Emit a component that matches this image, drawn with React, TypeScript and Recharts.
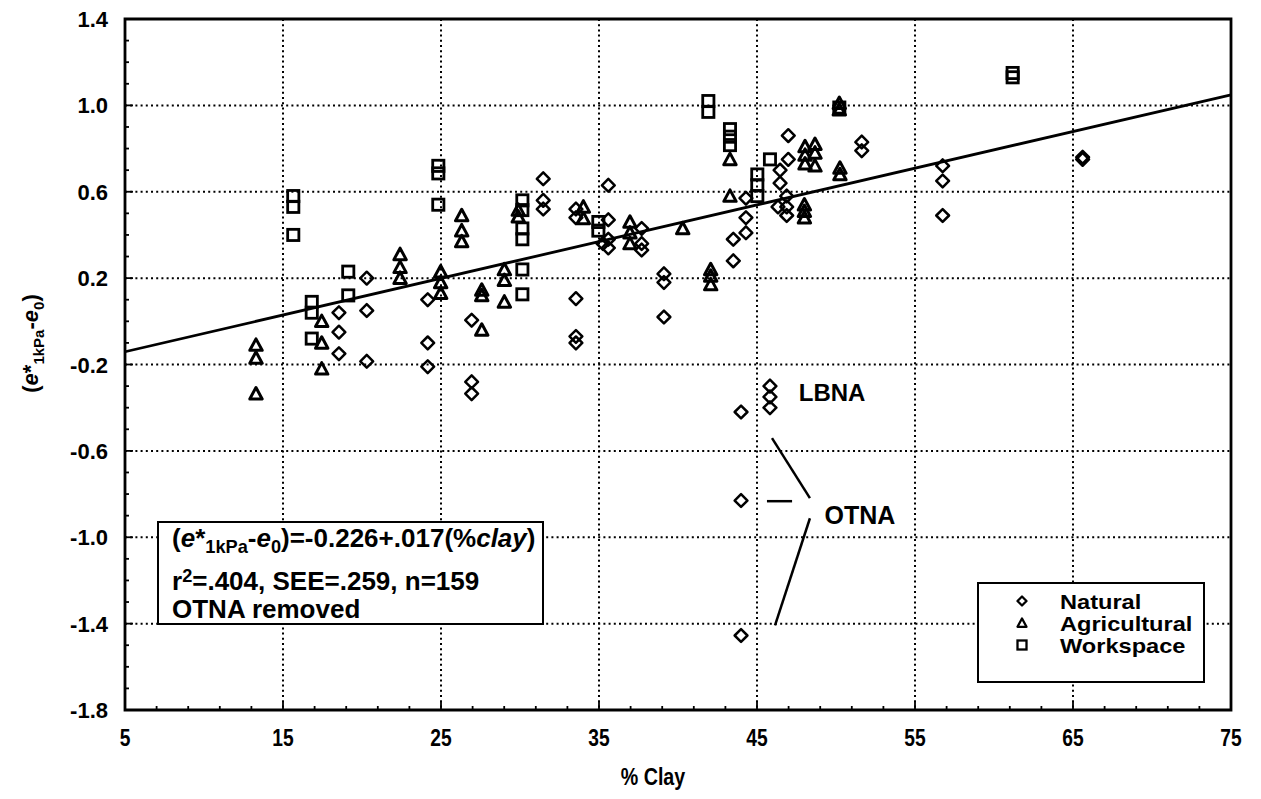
import React from 'react';
import {
  ScatterChart,
  Scatter,
  XAxis,
  YAxis,
  CartesianGrid,
  ReferenceArea,
  ReferenceLine,
  ReferenceDot,
  Legend,
} from 'recharts';

const FONT = '"Liberation Sans", Arial, Helvetica, sans-serif';

// Axis ticks (majors are labelled, the rest are minor marks)
const xMajorTicks = [5, 15, 25, 35, 45, 55, 65, 75];
const xAllTicks = [
  5, 7, 9, 11, 13, 15, 17, 19, 21, 23, 25, 27, 29, 31, 33, 35, 37, 39, 41, 43, 45, 47, 49, 51, 53,
  55, 57, 59, 61, 63, 65, 67, 69, 71, 73, 75,
];
const yMajorTicks = [-1.8, -1.4, -1.0, -0.6, -0.2, 0.2, 0.6, 1.0, 1.4];
const yAllTicks = [
  -1.8, -1.7, -1.6, -1.5, -1.4, -1.3, -1.2, -1.1, -1.0, -0.9, -0.8, -0.7, -0.6, -0.5, -0.4, -0.3,
  -0.2, -0.1, 0, 0.1, 0.2, 0.3, 0.4, 0.5, 0.6, 0.7, 0.8, 0.9, 1.0, 1.1, 1.2, 1.3, 1.4,
];

// Observations: [% clay, e*1kPa - e0]
const natural: [number, number][] = [
  [18.54, 0.04], [18.54, -0.05], [18.54, -0.15],
  [20.3, 0.2], [20.3, 0.05], [20.3, -0.185],
  [24.16, 0.1], [24.16, -0.1], [24.16, -0.21],
  [26.94, 0.005], [26.94, -0.28], [26.94, -0.335],
  [31.47, 0.66], [31.47, 0.56], [31.47, 0.52],
  [33.54, 0.52], [33.54, 0.48], [33.54, 0.105], [33.54, -0.07], [33.54, -0.1],
  [35.59, 0.63], [35.59, 0.47], [35.59, 0.38], [35.59, 0.34], [35.25, 0.36],
  [37.7, 0.43], [37.7, 0.36], [37.7, 0.33],
  [39.11, 0.22], [39.11, 0.18], [39.11, 0.02],
  [43.5, 0.38], [43.5, 0.28],
  [44.3, 0.57], [44.3, 0.48], [44.3, 0.41],
  [43.99, -0.42], [43.99, -0.83], [43.99, -1.455],
  [45.82, -0.3], [45.82, -0.35], [45.82, -0.4],
  [46.46, 0.7], [46.46, 0.64],
  [46.98, 0.86], [46.98, 0.75],
  [46.88, 0.58], [46.88, 0.53], [46.88, 0.49], [46.33, 0.53],
  [51.63, 0.83], [51.63, 0.79],
  [56.75, 0.72], [56.75, 0.65], [56.75, 0.49],
  [65.61, 0.76], [65.61, 0.75],
];

const agricultural: [number, number][] = [
  [13.29, -0.11], [13.29, -0.17], [13.29, -0.335],
  [17.45, 0.0], [17.45, -0.1], [17.45, -0.22],
  [22.41, 0.31], [22.41, 0.25], [22.41, 0.2],
  [24.98, 0.23], [24.98, 0.18], [24.98, 0.13],
  [26.31, 0.49], [26.31, 0.42], [26.31, 0.37],
  [27.58, 0.145], [27.58, 0.12], [27.58, -0.04],
  [29.01, 0.24], [29.01, 0.19], [29.01, 0.09],
  [29.89, 0.515], [29.89, 0.484],
  [34.01, 0.53], [34.01, 0.476],
  [36.96, 0.46], [36.96, 0.41], [36.96, 0.36],
  [40.3, 0.43],
  [42.07, 0.24], [42.07, 0.21], [42.07, 0.17],
  [43.29, 0.75], [43.29, 0.58],
  [48.0, 0.54], [48.0, 0.51], [48.0, 0.48],
  [48.04, 0.81], [48.04, 0.77], [48.04, 0.73],
  [48.67, 0.82], [48.67, 0.78], [48.67, 0.72],
  [50.21, 1.01], [50.21, 0.98], [50.25, 0.71], [50.25, 0.68],
];

const workspace: [number, number][] = [
  [15.65, 0.58], [15.65, 0.53], [15.65, 0.4],
  [16.82, 0.09], [16.82, 0.04], [16.82, -0.08],
  [19.13, 0.23], [19.13, 0.12],
  [24.83, 0.72], [24.83, 0.685], [24.83, 0.54],
  [30.15, 0.56], [30.15, 0.515], [30.15, 0.43], [30.15, 0.38], [30.15, 0.24], [30.15, 0.125],
  [34.96, 0.46], [34.96, 0.42],
  [41.92, 1.02], [41.92, 0.97],
  [43.29, 0.89], [43.29, 0.855], [43.29, 0.816],
  [45.02, 0.68], [45.02, 0.63], [45.02, 0.58],
  [45.82, 0.75],
  [50.21, 0.99],
  [61.18, 1.15], [61.18, 1.13],
];

// Regression (OTNA removed)
const intercept = -0.226;
const slope = 0.017;
const rSquared = 0.404;
const see = 0.259;
const nObs = 159;

// Site callouts and leader lines, in data units
const lbnaLabel = { clay: 49.75, value: -0.328 };
const otnaLabel = { clay: 51.52, value: -0.898 };
const otnaLeaders: [number, number, number, number][] = [
  [45.95, -0.541, 48.35, -0.819],
  [45.63, -0.833, 47.22, -0.833],
  [48.35, -0.912, 46.14, -1.408],
];

const toPoints = (rows: [number, number][]) => rows.map(([clay, value]) => ({ clay, value }));
const noLeadZero = (v: number, digits: number) => v.toFixed(digits).replace(/^(-?)0\./, '$1.');

// Marker shapes
const Diamond = ({ cx, cy, s = 6.4, w = 2.5 }: any) => (
  <path
    d={`M${cx},${cy - s}L${cx + s},${cy}L${cx},${cy + s}L${cx - s},${cy}Z`}
    fill="none"
    stroke="#000"
    strokeWidth={w}
    strokeLinejoin="round"
  />
);
const Triangle = ({ cx, cy, s = 6.2, w = 3 }: any) => (
  <path
    d={`M${cx},${cy - s}L${cx + s},${cy + s * 0.85}L${cx - s},${cy + s * 0.85}Z`}
    fill="none"
    stroke="#000"
    strokeWidth={w}
    strokeLinejoin="round"
  />
);
const Square = ({ cx, cy, s = 5.6, w = 2.8 }: any) => (
  <rect x={cx - s} y={cy - s} width={2 * s} height={2 * s} fill="none" stroke="#000" strokeWidth={w} />
);

const series = [
  { name: 'Natural', rows: natural, Shape: Diamond },
  { name: 'Agricultural', rows: agricultural, Shape: Triangle },
  { name: 'Workspace', rows: workspace, Shape: Square },
];

const isMajor = (list: number[], v: number) => list.some((m) => Math.abs(m - v) < 1e-6);

const XTick = (props: any) => {
  const { x, y, payload } = props;
  const v = payload.value;
  const major = isMajor(xMajorTicks, v);
  return (
    <g>
      <line x1={x} y1={y} x2={x} y2={y - (major ? 8 : 4)} stroke="#000" strokeWidth={1.8} />
      {major && (
        <text
          transform={`translate(${x},${y + 36}) scale(0.8,1)`}
          textAnchor="middle"
          fontFamily={FONT}
          fontWeight="bold"
          fontSize={24}
          fill="#000"
        >
          {v}
        </text>
      )}
    </g>
  );
};

const YTick = (props: any) => {
  const { x, y, payload } = props;
  const v = payload.value;
  const major = isMajor(yMajorTicks, v);
  return (
    <g>
      <line x1={x} y1={y} x2={x + (major ? 8 : 4)} y2={y} stroke="#000" strokeWidth={1.8} />
      {major && (
        <text
          x={x - 17}
          y={y + 8}
          textAnchor="end"
          fontFamily={FONT}
          fontWeight="bold"
          fontSize={22}
          fill="#000"
        >
          {v.toFixed(1)}
        </text>
      )}
    </g>
  );
};

const YTitle = (props: any) => {
  const vb = props.viewBox || { x: 0, y: 19, width: 125, height: 691 };
  const cx = 38;
  const cy = vb.y + vb.height / 2 - 21;
  return (
    <text
      transform={`translate(${cx},${cy}) rotate(-90)`}
      textAnchor="middle"
      fontFamily={FONT}
      fontWeight="bold"
      fontSize={22}
      fill="#000"
    >
      <tspan>(</tspan>
      <tspan fontStyle="italic">e</tspan>
      <tspan>*</tspan>
      <tspan fontSize={15} dy={6}>1kPa</tspan>
      <tspan dy={-6}>-</tspan>
      <tspan fontStyle="italic">e</tspan>
      <tspan fontSize={15} dy={6}>0</tspan>
      <tspan dy={-6}>)</tspan>
    </text>
  );
};

const XTitle = (props: any) => {
  const vb = props.viewBox || { x: 125, y: 710, width: 1106, height: 89 };
  const cx = vb.x + vb.width / 2 - 25;
  const cy = vb.y + 75;
  return (
    <text
      transform={`translate(${cx},${cy}) scale(0.82,1)`}
      textAnchor="middle"
      fontFamily={FONT}
      fontWeight="bold"
      fontSize={24}
      fill="#000"
    >
      % Clay
    </text>
  );
};

// Legend box keeps the series order (Natural, Agricultural, Workspace)
const LegendBox = (props: any) => {
  const names = (props.payload || []).map((p: any) => p.value);
  const items = series.filter((s) => names.length === 0 || names.includes(s.name));
  return (
    <svg width={228} height={101} style={{ display: 'block' }}>
      <rect x={1} y={1} width={226} height={99} fill="#fff" stroke="#000" strokeWidth={2} />
      {items.map((entry, i) => {
        const cy = 19 + i * 22;
        const Shape = entry.Shape;
        return (
          <g key={entry.name}>
            <Shape cx={45} cy={cy} s={4.5} w={2.3} />
            <text
              transform={`translate(83,${cy + 7.5}) scale(1.18,1)`}
              fontFamily={FONT}
              fontWeight="bold"
              fontSize={20}
              fill="#000"
            >
              {entry.name}
            </text>
          </g>
        );
      })}
    </svg>
  );
};

const sub: React.CSSProperties = { position: 'relative', top: '0.32em', fontSize: '0.7em' };
const sup: React.CSSProperties = { position: 'relative', top: '-0.45em', fontSize: '0.7em' };
const lineStyle = (top: number): React.CSSProperties => ({
  position: 'absolute',
  left: 13,
  top,
  whiteSpace: 'nowrap',
  lineHeight: '26px',
});

export default function App() {
  const fitLine = [
    { x: 5, y: intercept + slope * 5 },
    { x: 75, y: intercept + slope * 75 },
  ];
  return (
    <div style={{ position: 'absolute', left: 0, top: 0, width: 1261, height: 799, background: '#fff' }}>
      <ScatterChart width={1261} height={799} margin={{ top: 19, right: 30, bottom: 0, left: 0 }}>
        <CartesianGrid
          stroke="#000"
          strokeWidth={2}
          strokeDasharray="2 3.2"
          horizontalValues={yMajorTicks}
          verticalValues={xMajorTicks}
        />
        <XAxis
          type="number"
          dataKey="clay"
          domain={[5, 75]}
          ticks={xAllTicks}
          interval={0}
          height={89}
          tickSize={0}
          tickMargin={0}
          tickLine={false}
          axisLine={false}
          tick={<XTick />}
          label={{ content: XTitle }}
        />
        <YAxis
          type="number"
          dataKey="value"
          domain={[-1.8, 1.4]}
          ticks={yAllTicks}
          interval={0}
          width={125}
          tickSize={0}
          tickMargin={0}
          tickLine={false}
          axisLine={false}
          tick={<YTick />}
          label={{ content: YTitle }}
        />
        <ReferenceArea
          x1={5}
          x2={75}
          y1={-1.8}
          y2={1.4}
          fill="none"
          fillOpacity={0}
          stroke="#000"
          strokeWidth={2.8}
          ifOverflow="visible"
        />
        <ReferenceLine
          segment={[fitLine[0], fitLine[1]]}
          stroke="#000"
          strokeWidth={2.8}
          ifOverflow="visible"
        />
        {otnaLeaders.map(([x1, y1, x2, y2], i) => (
          <ReferenceLine
            key={`leader-${i}`}
            segment={[
              { x: x1, y: y1 },
              { x: x2, y: y2 },
            ]}
            stroke="#000"
            strokeWidth={2.5}
          />
        ))}
        {series.map((s) => (
          <Scatter
            key={s.name}
            name={s.name}
            data={toPoints(s.rows)}
            isAnimationActive={false}
            fill="#000"
            shape={(p: any) => <s.Shape cx={p.cx} cy={p.cy} />}
          />
        ))}
        <ReferenceDot
          x={lbnaLabel.clay}
          y={lbnaLabel.value}
          r={0}
          fill="none"
          stroke="none"
          label={{ value: 'LBNA', position: 'center', fill: '#000', fontSize: 24, fontWeight: 'bold', fontFamily: FONT }}
        />
        <ReferenceDot
          x={otnaLabel.clay}
          y={otnaLabel.value}
          r={0}
          fill="none"
          stroke="none"
          label={{ value: 'OTNA', position: 'center', fill: '#000', fontSize: 25, fontWeight: 'bold', fontFamily: FONT }}
        />
        <Legend
          layout="vertical"
          align="center"
          verticalAlign="middle"
          content={LegendBox}
          wrapperStyle={{ position: 'absolute', left: 977, top: 582, width: 228, height: 101, margin: 0, padding: 0 }}
        />
      </ScatterChart>
      <div
        style={{
          position: 'absolute',
          left: 157,
          top: 521,
          width: 387,
          height: 104,
          boxSizing: 'border-box',
          border: '2px solid #000',
          background: '#fff',
          fontFamily: FONT,
          fontWeight: 'bold',
          fontSize: 26,
          color: '#000',
        }}
      >
        <div style={lineStyle(2)}>
          (<i>e</i>*<span style={sub}>1kPa</span>-<i>e</i>
          <span style={sub}>0</span>)={intercept.toFixed(3)}+{noLeadZero(slope, 3)}(%<i>clay</i>)
        </div>
        <div style={lineStyle(45)}>
          r<span style={sup}>2</span>={noLeadZero(rSquared, 3)}, SEE={noLeadZero(see, 3)}, n={nObs}
        </div>
        <div style={lineStyle(73)}>OTNA removed</div>
      </div>
    </div>
  );
}
